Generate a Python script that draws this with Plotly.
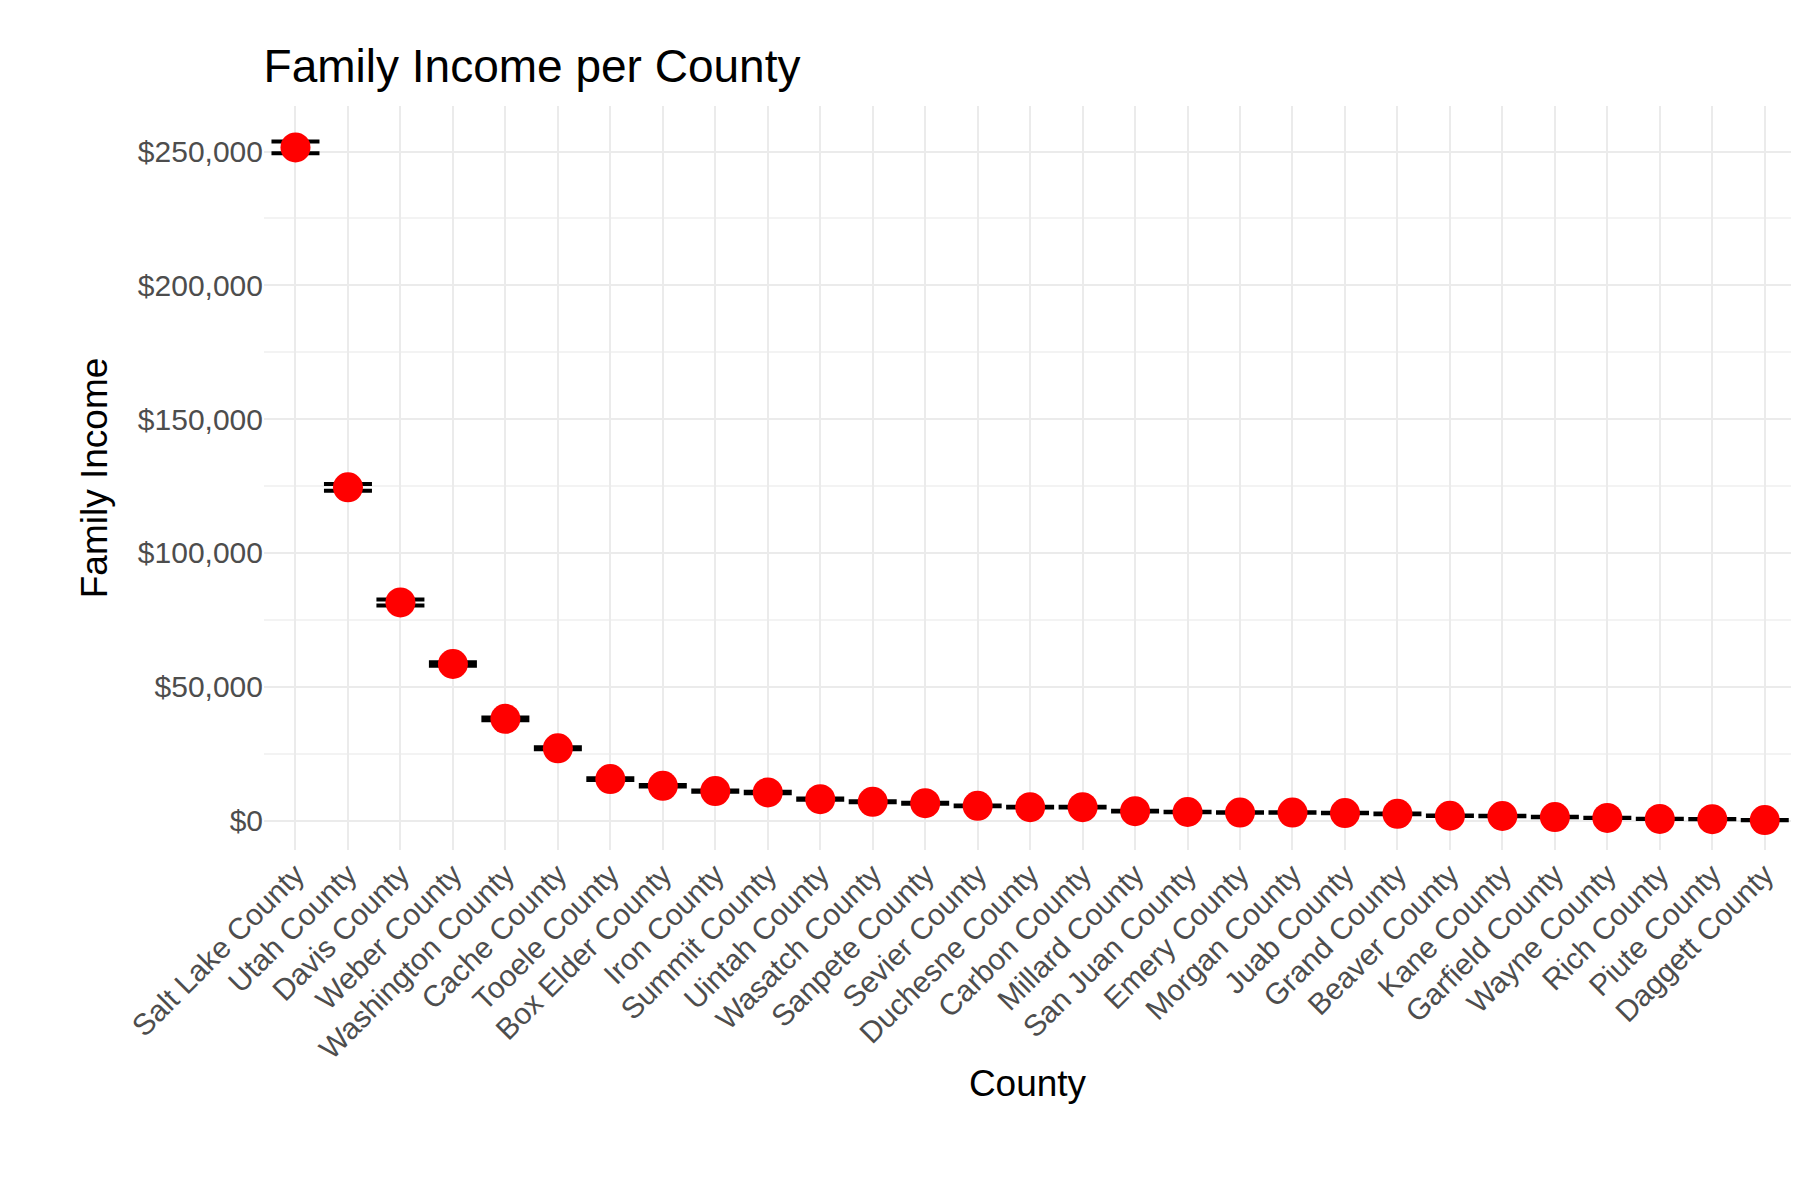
import plotly.graph_objects as go

counties = ["Salt Lake County", "Utah County", "Davis County", "Weber County", "Washington County",
            "Cache County", "Tooele County", "Box Elder County", "Iron County", "Summit County",
            "Uintah County", "Wasatch County", "Sanpete County", "Sevier County", "Duchesne County",
            "Carbon County", "Millard County", "San Juan County", "Emery County", "Morgan County",
            "Juab County", "Grand County", "Beaver County", "Kane County", "Garfield County",
            "Wayne County", "Rich County", "Piute County", "Daggett County"]
income = [251500, 124500, 81500, 58500, 38000, 27000, 15500, 13000, 11000, 10500,
          8000, 7000, 6500, 5500, 5000, 5000, 3500, 3200, 3000, 3000,
          2800, 2500, 1800, 1700, 1300, 1000, 600, 500, 200]
err = [2200, 1300, 1100, 700, 500, 400, 300, 300, 250, 250,
       200, 200, 200, 150, 150, 150, 120, 120, 100, 100,
       100, 100, 80, 80, 80, 60, 50, 50, 40]

fig = go.Figure(go.Scatter(
    x=counties, y=income, mode="markers",
    marker=dict(color="#ff0000", size=30),
    error_y=dict(type="data", array=err, color="black", thickness=4, width=24),
))

fig.update_layout(
    width=1800, height=1200,
    paper_bgcolor="white", plot_bgcolor="white",
    font=dict(family="Liberation Sans, Arial, sans-serif", size=30, color="#4d4d4d"),
    title=dict(text="Family Income per County", x=0.142, xanchor="left", y=0.965,
               font=dict(size=46, color="black")),
    margin=dict(l=256, r=17, t=98, b=358),
    showlegend=False,
)
fig.update_xaxes(title=dict(text="County", font=dict(size=37, color="black"), standoff=5),
                 tickangle=-45, showgrid=True, gridcolor="#ebebeb", gridwidth=2,
                 zeroline=False, ticks="", range=[-0.6, 28.5])
fig.update_yaxes(title=dict(text="Family Income", font=dict(size=37, color="black"), standoff=18),
                 tickprefix="$", tickformat=",d", dtick=50000, range=[-11000, 267000],
                 showgrid=True, gridcolor="#ebebeb", gridwidth=2, zeroline=False, ticks="",
                 minor=dict(dtick=25000, showgrid=True, gridcolor="#f3f3f3", gridwidth=1.5))

fig.write_html("out.html")
